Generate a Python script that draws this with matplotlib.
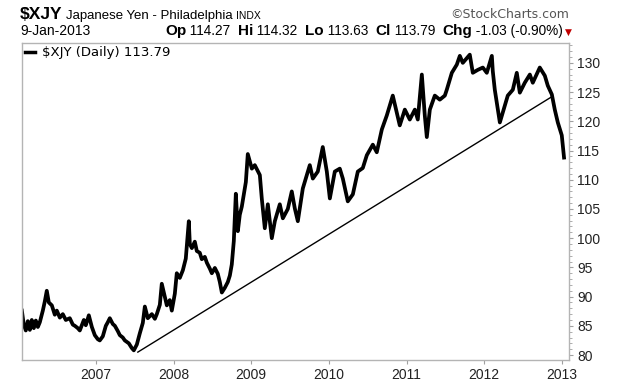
import matplotlib
matplotlib.use("Agg")
import matplotlib.pyplot as plt
from matplotlib.lines import Line2D
from matplotlib.transforms import IdentityTransform

# --- data (x in decimal years) ---
t = [2006.048, 2006.073, 2006.099, 2006.125, 2006.151, 2006.176, 2006.202, 2006.228,
     2006.254, 2006.279, 2006.318, 2006.344, 2006.369, 2006.395, 2006.434, 2006.472,
     2006.498, 2006.537, 2006.575, 2006.614, 2006.665, 2006.704, 2006.730, 2006.768,
     2006.794, 2006.846, 2006.871, 2006.910, 2006.949, 2006.987, 2007.026, 2007.051,
     2007.090, 2007.129, 2007.154, 2007.180, 2007.219, 2007.245, 2007.283, 2007.309,
     2007.347, 2007.373, 2007.425, 2007.463, 2007.489, 2007.528, 2007.566, 2007.605,
     2007.631, 2007.669, 2007.721, 2007.760, 2007.785, 2007.824, 2007.849, 2007.888,
     2007.914, 2007.952, 2007.978, 2008.017, 2008.042, 2008.081, 2008.120, 2008.158,
     2008.197, 2008.210, 2008.236, 2008.274, 2008.300, 2008.338, 2008.364, 2008.403,
     2008.429, 2008.467, 2008.493, 2008.532, 2008.570, 2008.596, 2008.622, 2008.660,
     2008.699, 2008.725, 2008.750, 2008.776, 2008.802, 2008.828, 2008.853, 2008.879,
     2008.931, 2008.956, 2009.008, 2009.046, 2009.111, 2009.136, 2009.175, 2009.214,
     2009.265, 2009.304, 2009.368, 2009.407, 2009.471, 2009.522, 2009.561, 2009.600,
     2009.664, 2009.754, 2009.793, 2009.857, 2009.921, 2009.973, 2010.012, 2010.076,
     2010.140, 2010.179, 2010.243, 2010.308, 2010.372, 2010.436, 2010.488, 2010.565,
     2010.616, 2010.681, 2010.745, 2010.822, 2010.874, 2010.912, 2010.977, 2011.041,
     2011.106, 2011.144, 2011.196, 2011.234, 2011.260, 2011.299, 2011.363, 2011.427,
     2011.492, 2011.517, 2011.582, 2011.646, 2011.685, 2011.723, 2011.813, 2011.852,
     2011.916, 2011.981, 2012.032, 2012.097, 2012.109, 2012.135, 2012.161, 2012.200,
     2012.238, 2012.302, 2012.367, 2012.418, 2012.457, 2012.521, 2012.586, 2012.624,
     2012.714, 2012.779, 2012.817, 2012.869, 2012.907, 2012.946, 2012.997, 2013.023,
     2013.026]
xjy = [87.6, 85.2, 84.2, 85.8, 84.3, 86.0, 84.6, 85.9,
       84.8, 85.6, 87.6, 89.2, 91.0, 89.0, 88.5, 86.9,
       87.6, 86.4, 87.0, 86.0, 86.3, 85.2, 85.0, 84.6,
       84.2, 86.0, 85.1, 86.8, 84.8, 83.4, 82.7, 82.5,
       83.2, 85.0, 85.6, 86.3, 85.3, 85.0, 84.1, 83.4,
       83.0, 82.5, 82.0, 81.2, 80.8, 81.8, 83.7, 85.5,
       88.3, 86.3, 87.0, 86.2, 87.0, 88.6, 92.2, 90.0,
       88.5, 89.4, 87.6, 90.5, 94.0, 93.2, 94.5, 96.5,
       102.9, 99.0, 98.3, 99.4, 97.8, 97.5, 96.4, 96.8,
       95.8, 94.8, 94.0, 94.9, 93.9, 92.5, 90.7, 91.5,
       92.5, 93.6, 95.5, 99.5, 107.6, 101.2, 104.0, 105.4,
       109.6, 114.4, 111.9, 112.5, 110.8, 106.8, 101.7, 105.8,
       100.0, 102.9, 105.8, 103.4, 105.0, 108.0, 105.1, 102.9,
       108.5, 112.5, 110.2, 111.4, 115.6, 111.4, 106.8, 111.4,
       111.9, 110.2, 106.3, 107.5, 111.4, 112.0, 114.2, 116.0,
       114.7, 118.6, 121.0, 124.4, 121.5, 119.3, 122.0, 120.3,
       122.0, 120.3, 128.0, 121.0, 117.3, 122.0, 124.4, 123.7,
       124.4, 125.4, 128.3, 129.7, 131.2, 130.0, 131.4, 128.3,
       128.8, 129.2, 128.3, 131.2, 128.6, 125.4, 123.2, 119.8,
       121.5, 124.4, 125.4, 128.3, 124.9, 126.6, 128.0, 126.6,
       129.2, 127.8, 126.1, 124.6, 122.0, 119.8, 117.6, 114.2,
       113.79]

trend_t = [2007.541, 2012.856]
trend_v = [80.5, 124.1]

years = [2007, 2008, 2009, 2010, 2011, 2012, 2013]
yticks = [80, 85, 90, 95, 100, 105, 110, 115, 120, 125, 130]

W, H = 620, 383
fig = plt.figure(figsize=(W / 100, H / 100), dpi=100)
fig.patch.set_facecolor("white")

ax = fig.add_axes([22 / W, 23 / H, 547 / W, 317 / H])
ax.plot(t, xjy, color="black", lw=2.7, solid_joinstyle="round")
ax.plot(trend_t, trend_v, color="black", lw=1.0)

ax.set_xlim(2006.05, 2013.09)
ax.set_ylim(79.15, 133.4)
ax.yaxis.tick_right()
ax.set_yticks(yticks)
ax.set_yticks(range(80, 134), minor=True)
ax.set_xticks(years)
ax.set_xticklabels([str(y) for y in years])
for sp in ax.spines.values():
    sp.set_color("#b4b4b4")
    sp.set_linewidth(1.0)
ax.tick_params(axis="both", which="both", direction="out", colors="#a0a0a0",
               labelcolor="#222222", labelsize=10)
ax.tick_params(axis="y", which="major", length=3, pad=3)
ax.tick_params(axis="y", which="minor", length=2)
ax.tick_params(axis="x", length=3, pad=3)
for lab in ax.get_xticklabels() + ax.get_yticklabels():
    lab.set_family("Liberation Sans")

ax.legend(handles=[Line2D([], [], color="black", lw=2.5)],
          labels=[r"\$XJY (Daily) 113.79"], loc="upper left", frameon=False,
          handlelength=0.7, handletextpad=0.6, borderaxespad=0.15, borderpad=0.1,
          prop={"family": "DejaVu Sans", "size": 9.5})

# --- header text ---
renderer = fig.canvas.get_renderer()


def put(x, y, s, size, weight="normal", color="black", family="Liberation Sans", ha="left"):
    txt = fig.text(x, H - y, s, transform=IdentityTransform(), fontsize=size,
                   fontweight=weight, color=color, family=family, ha=ha, va="baseline")
    bb = txt.get_window_extent(renderer)
    return bb.x1, txt


x, _ = put(20, 19, r"\$XJY", 12.5, "bold")
x, _ = put(x + 3, 19, "Japanese Yen - Philadelphia", 9.5)
put(x + 4, 19, "INDX", 7.5)
put(569, 18, "©StockCharts.com", 9, color="#555555", family="DejaVu Sans", ha="right")

put(20, 35, "9-Jan-2013", 10)
row = [("Op", "bold"), (" 114.27  ", "normal"), ("Hi", "bold"), (" 114.32  ", "normal"),
       ("Lo", "bold"), (" 113.63  ", "normal"), ("Cl", "bold"), (" 113.79  ", "normal"),
       ("Chg", "bold"), (" -1.03 (-0.90%)", "normal")]
x = 165
for s, w in row:
    size = 11 if w == "bold" else 9.8
    x, _ = put(x, 35, s, size, w)
put(x + 2, 35, "▼", 6.5, color="#c00000", family="DejaVu Sans")

fig.savefig("out.png", dpi=100)
